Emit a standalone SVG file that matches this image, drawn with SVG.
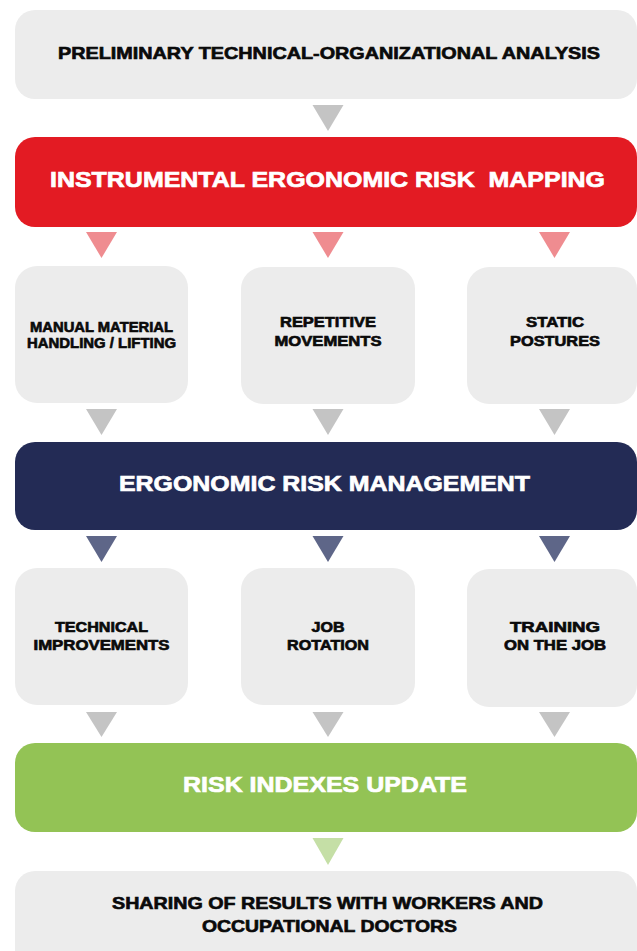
<svg xmlns="http://www.w3.org/2000/svg" width="637" height="951" viewBox="0 0 637 951">
<style>
.box{fill:#ececec}
.red{fill:#e31b23}
.navy{fill:#232b55}
.green{fill:#93c355}
.t{font-family:"Liberation Sans",Arial,sans-serif;font-weight:bold;text-anchor:middle}
.dk{fill:#0a0a0a;stroke:#0a0a0a;stroke-width:0.65}
.wh{fill:#fff;stroke:#fff;stroke-width:0.7}
.s{font-size:14.5px}
.m{font-size:17px}
.l{font-size:22px}
.tg{fill:#c4c4c4}
.tp{fill:#ef8c90}
.tn{fill:#5e6688}
.tl{fill:#c5dfa6}
</style>
<rect width="637" height="951" fill="#fff"/>
<g id="connectors">
<polygon class="tg" points="312.5,105 343.5,105 328,131"/>
<polygon class="tp" points="86,232 117,232 101.5,258"/>
<polygon class="tp" points="312.5,232 343.5,232 328,258"/>
<polygon class="tp" points="539,232 570,232 554.5,258"/>
<polygon class="tg" points="86,409 117,409 101.5,435"/>
<polygon class="tg" points="312.5,409 343.5,409 328,435"/>
<polygon class="tg" points="539,409 570,409 554.5,435"/>
<polygon class="tn" points="86,536 117,536 101.5,562"/>
<polygon class="tn" points="312.5,536 343.5,536 328,562"/>
<polygon class="tn" points="539,536 570,536 554.5,562"/>
<polygon class="tg" points="86,712 117,712 101.5,737"/>
<polygon class="tg" points="312.5,712 343.5,712 328,737"/>
<polygon class="tg" points="539,712 570,712 554.5,737"/>
<polygon class="tl" points="312.5,838 343.5,838 328,865"/>
</g>
<g id="preliminary">
<rect class="box" x="15" y="10" width="622" height="89" rx="20"/>
<text class="t dk m" x="329" y="59" textLength="542" lengthAdjust="spacingAndGlyphs">PRELIMINARY TECHNICAL-ORGANIZATIONAL ANALYSIS</text>
</g>
<g id="mapping">
<rect class="red" x="15" y="137" width="622" height="90" rx="20"/>
<text class="t wh l" x="327.5" y="187" textLength="555" lengthAdjust="spacingAndGlyphs" xml:space="preserve">INSTRUMENTAL ERGONOMIC RISK  MAPPING</text>
</g>
<g id="manual">
<rect class="box" x="15" y="266" width="173" height="137" rx="22"/>
<text class="t dk s" x="101.5" y="332" textLength="143" lengthAdjust="spacingAndGlyphs">MANUAL MATERIAL</text>
<text class="t dk s" x="101.5" y="348" textLength="149" lengthAdjust="spacingAndGlyphs">HANDLING / LIFTING</text>
</g>
<g id="repetitive">
<rect class="box" x="241" y="267" width="174" height="137" rx="22"/>
<text class="t dk s" x="328" y="327" textLength="96" lengthAdjust="spacingAndGlyphs">REPETITIVE</text>
<text class="t dk s" x="328" y="346" textLength="107" lengthAdjust="spacingAndGlyphs">MOVEMENTS</text>
</g>
<g id="static">
<rect class="box" x="467" y="267" width="170" height="137" rx="22"/>
<text class="t dk s" x="555" y="327" textLength="58" lengthAdjust="spacingAndGlyphs">STATIC</text>
<text class="t dk s" x="555" y="346" textLength="90" lengthAdjust="spacingAndGlyphs">POSTURES</text>
</g>
<g id="management">
<rect class="navy" x="15" y="442" width="622" height="88" rx="20"/>
<text class="t wh l" x="324.5" y="491" textLength="411" lengthAdjust="spacingAndGlyphs">ERGONOMIC RISK MANAGEMENT</text>
</g>
<g id="technical">
<rect class="box" x="15" y="568" width="173" height="137" rx="22"/>
<text class="t dk s" x="101.5" y="632" textLength="93" lengthAdjust="spacingAndGlyphs">TECHNICAL</text>
<text class="t dk s" x="101.5" y="650" textLength="136" lengthAdjust="spacingAndGlyphs">IMPROVEMENTS</text>
</g>
<g id="rotation">
<rect class="box" x="241" y="568" width="174" height="137" rx="22"/>
<text class="t dk s" x="328" y="632" textLength="33" lengthAdjust="spacingAndGlyphs">JOB</text>
<text class="t dk s" x="328" y="650" textLength="82" lengthAdjust="spacingAndGlyphs">ROTATION</text>
</g>
<g id="training">
<rect class="box" x="467" y="569" width="170" height="138" rx="22"/>
<text class="t dk s" x="555" y="632" textLength="90" lengthAdjust="spacingAndGlyphs">TRAINING</text>
<text class="t dk s" x="555" y="650" textLength="102" lengthAdjust="spacingAndGlyphs">ON THE JOB</text>
</g>
<g id="update">
<rect class="green" x="15" y="743" width="622" height="89" rx="20"/>
<text class="t wh l" x="325" y="792" textLength="284" lengthAdjust="spacingAndGlyphs">RISK INDEXES UPDATE</text>
</g>
<g id="sharing">
<rect class="box" x="15" y="871" width="622" height="100" rx="20"/>
<text class="t dk m" x="327.5" y="909" textLength="431" lengthAdjust="spacingAndGlyphs">SHARING OF RESULTS WITH WORKERS AND</text>
<text class="t dk m" x="329.5" y="932" textLength="255" lengthAdjust="spacingAndGlyphs">OCCUPATIONAL DOCTORS</text>
</g>
</svg>
